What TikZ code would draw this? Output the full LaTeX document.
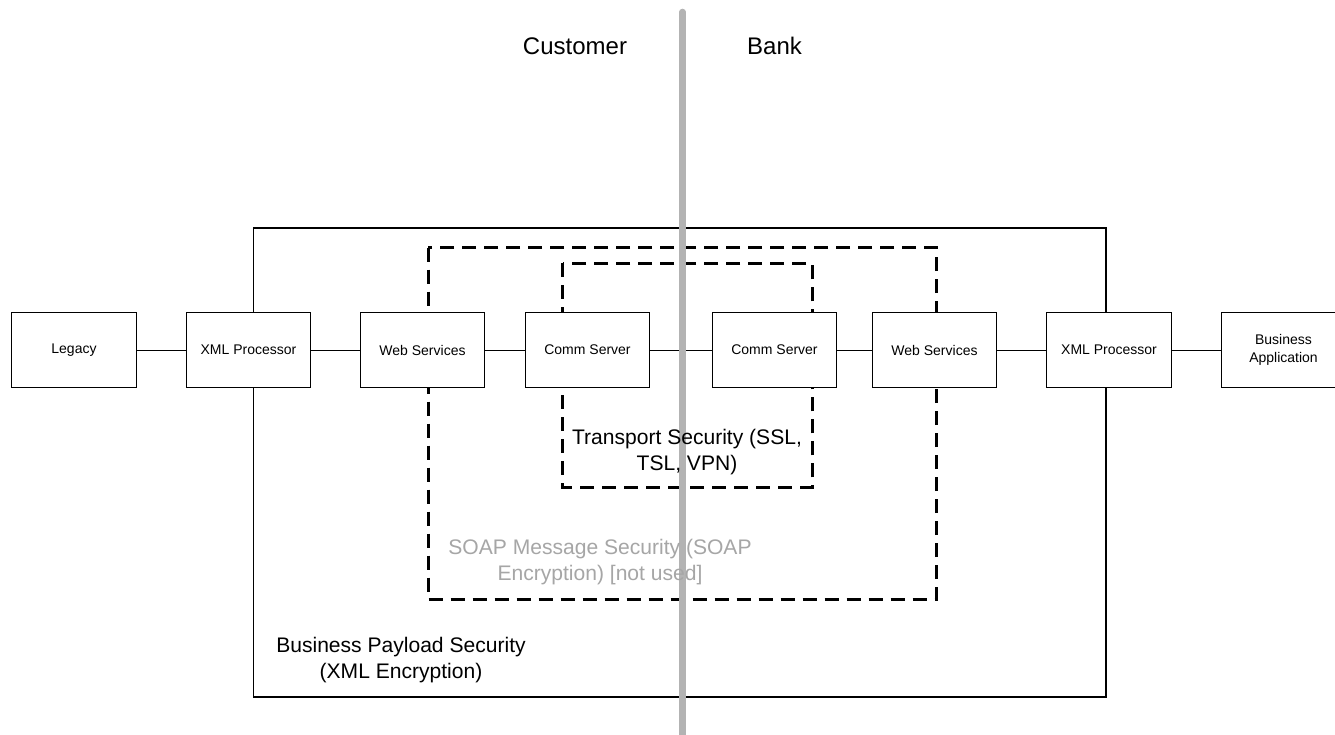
\documentclass[tikz,border=0pt]{standalone}
\usepackage{fontspec}
\setmainfont{Liberation Sans}
\definecolor{divgray}{HTML}{B3B3B3}
\definecolor{softgray}{HTML}{A6A6A6}
\begin{document}
\begin{tikzpicture}[x=0.75pt,y=-0.75pt,
  compbox/.style={draw=black,line width=0.75pt,fill=white,minimum width=93.4pt,minimum height=56.25pt,inner sep=0pt,align=center,font=\fontsize{10.5}{14}\selectfont},
  link/.style={draw=black,line width=0.75pt},
  zonedash/.style={draw=black,line width=2.25pt,dash pattern=on 10.5pt off 6pt},
  zonesolid/.style={draw=black,line width=1.3pt},
  seclabel/.style={align=center,inner sep=0pt,font=\fontsize{15.8}{19.8}\selectfont},
  sidelabel/.style={inner sep=0pt,font=\fontsize{18}{22}\selectfont}]
\useasboundingbox (0,0) rectangle (1335,735);
\fill[white] (0,0) rectangle (1335,735);
% zones
\draw[zonesolid] (253.5,227.7) rectangle (1106,696.7);
\draw[zonedash] (428,247.5) rectangle (936.5,599);
\draw[zonedash] (562.7,263.3) rectangle (812,487.7);
% components
\node[compbox] (leg)  at (74,350)     {Legacy};
\node[compbox] (xml1) at (248.5,350)  {XML Processor};
\node[compbox] (ws1)  at (422.5,350)  {Web Services};
\node[compbox] (cs1)  at (587.5,350)  {Comm Server};
\node[compbox] (cs2)  at (774.5,350)  {Comm Server};
\node[compbox] (ws2)  at (934.5,350)  {Web Services};
\node[compbox] (xml2) at (1109,350)   {XML Processor};
\node[compbox] (ba)   at (1283.5,350) {Business\\Application};
\draw[link] (leg) -- (xml1);
\draw[link] (xml1) -- (ws1);
\draw[link] (ws1) -- (cs1);
\draw[link] (cs1) -- (cs2);
\draw[link] (cs2) -- (ws2);
\draw[link] (ws2) -- (xml2);
\draw[link] (xml2) -- (ba);
% divider
\coordinate (divtop) at (682.5,12);
\coordinate (divbot) at (682.5,745);
\draw[divgray,line width=4.9pt,line cap=round] (divtop) -- (divbot);
% labels
\node[sidelabel] (cust) at (575,46) {Customer};
\node[sidelabel] (bank) at (774.5,46) {Bank};
\node[seclabel] (tsec) at (687,452) {Transport Security (SSL,\\TSL, VPN)};
\node[seclabel,text=softgray] (ssec) at (600,562) {SOAP Message Security (SOAP\\Encryption) [not used]};
\node[seclabel] (bsec) at (401,660) {Business Payload Security\\(XML Encryption)};
\end{tikzpicture}
\end{document}
